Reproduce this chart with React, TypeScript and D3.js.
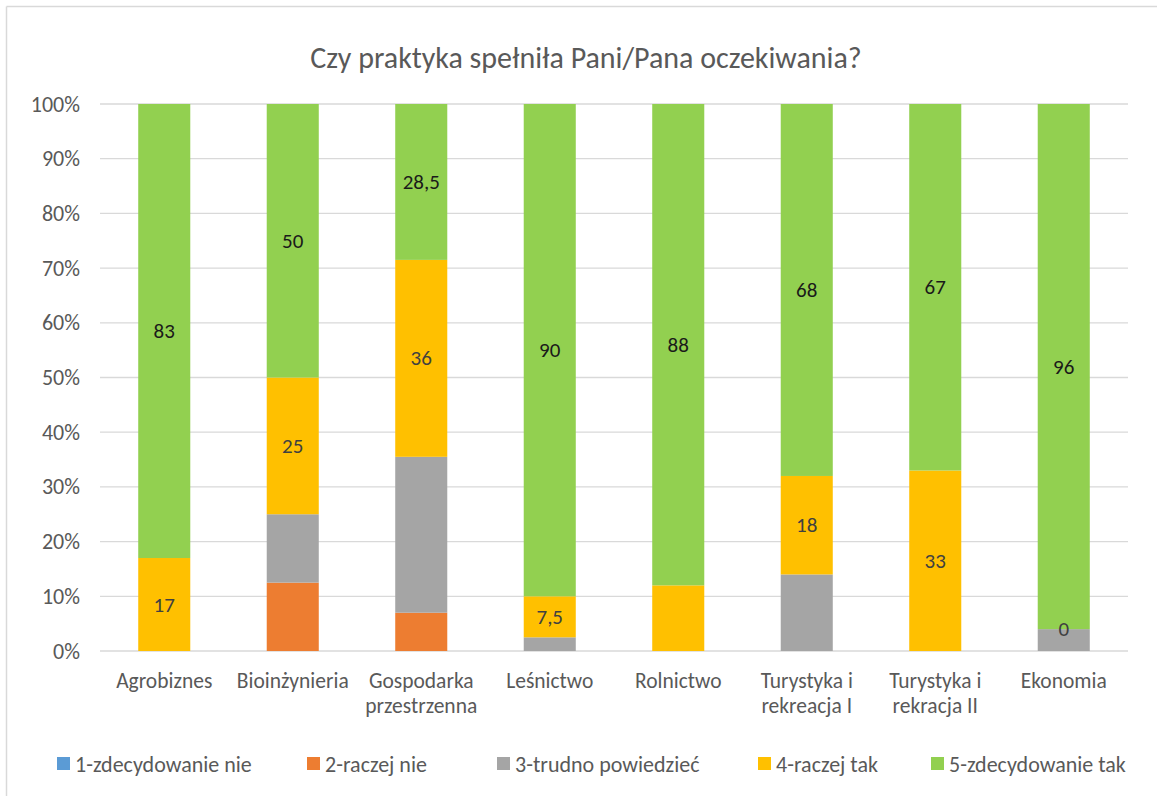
import React from "react";
import * as d3 from "d3";

const categories = [
  ["Agrobiznes"],
  ["Bioinżynieria"],
  ["Gospodarka", "przestrzenna"],
  ["Leśnictwo"],
  ["Rolnictwo"],
  ["Turystyka i", "rekreacja I"],
  ["Turystyka i", "rekracja II"],
  ["Ekonomia"],
];

const seriesNames = [
  "1-zdecydowanie nie",
  "2-raczej nie",
  "3-trudno powiedzieć",
  "4-raczej tak",
  "5-zdecydowanie tak",
];

const s1 = [0, 0, 0, 0, 0, 0, 0, 0];
const s2 = [0, 12.5, 7, 0, 0, 0, 0, 0];
const s3 = [0, 12.5, 28.5, 2.5, 0, 14, 0, 4];
const s4 = [17, 25, 36, 7.5, 12, 18, 33, 0];
const s5 = [83, 50, 28.5, 90, 88, 68, 67, 96];

// which segments carry a data label
const s4ShowLabel = [true, true, true, true, false, true, true, true];
const s5ShowLabel = [true, true, true, true, true, true, true, true];

const yTicks = [0, 10, 20, 30, 40, 50, 60, 70, 80, 90, 100];

const colors = ["#5B9BD5", "#ED7D31", "#A5A5A5", "#FFC000", "#92D050"];

const FONT = "Carlito, Calibri, Lato, 'Open Sans', sans-serif";

export default function App() {
  const W = 1157;
  const H = 796;
  const plotLeft = 100;
  const plotRight = 1128;
  const plotTop = 104;
  const plotBottom = 651;

  const allSeries = [s1, s2, s3, s4, s5];
  const labels = categories.map((c) => c.join(" "));

  const x = d3
    .scaleBand<string>()
    .domain(labels)
    .range([plotLeft, plotRight])
    .paddingInner(0.595)
    .paddingOuter(0.2975);

  const y = d3.scaleLinear().domain([0, 100]).range([plotBottom, plotTop]);

  const rows = labels.map((l, i) => {
    const r: any = { cat: l };
    allSeries.forEach((s, k) => (r["s" + k] = s[i]));
    return r;
  });
  const keys = allSeries.map((_, k) => "s" + k);
  const stacked = d3.stack<any>().keys(keys)(rows);

  const fmt = (v: number) => String(v).replace(".", ",");

  const legendX = [57, 307, 497, 758, 931];

  return (
    <svg
      width={W}
      height={H}
      style={{ position: "absolute", left: 0, top: 0, background: "#fff" }}
      fontFamily={FONT}
    >
      <rect x={0} y={0} width={W} height={H} fill="#fff" />
      {/* chart border */}
      <line x1={6.5} y1={6.5} x2={W} y2={6.5} stroke="#d9d9d9" strokeWidth={1.5} />
      <line x1={6.5} y1={6.5} x2={6.5} y2={H} stroke="#d9d9d9" strokeWidth={1.5} />

      {/* title */}
      <text x={586} y={68} textAnchor="middle" fontSize={30} fill="#595959">
        Czy praktyka spełniła Pani/Pana oczekiwania?
      </text>

      {/* gridlines & y ticks */}
      {yTicks.map((t) => (
        <g key={t}>
          <line
            x1={plotLeft}
            x2={plotRight}
            y1={y(t)}
            y2={y(t)}
            stroke="#d9d9d9"
            strokeWidth={1.3}
          />
          <text
            x={80}
            y={y(t) + 7.5}
            textAnchor="end"
            fontSize={22}
            fill="#595959"
          >
            {t}%
          </text>
        </g>
      ))}

      {/* bars */}
      {stacked.map((layer, k) => (
        <g key={k} fill={colors[k]}>
          {layer.map((d, i) => {
            const h = y(d[0]) - y(d[1]);
            if (h <= 0) return null;
            return (
              <rect
                key={i}
                x={x(labels[i])}
                y={y(d[1])}
                width={x.bandwidth()}
                height={h}
              />
            );
          })}
        </g>
      ))}

      {/* data labels for series 4 */}
      {stacked[3].map((d, i) =>
        s4ShowLabel[i] ? (
          <text
            key={"l4" + i}
            x={(x(labels[i]) as number) + x.bandwidth() / 2}
            y={y((d[0] + d[1]) / 2) + 7}
            textAnchor="middle"
            fontSize={21}
            fill="#404040"
          >
            {fmt(s4[i])}
          </text>
        ) : null
      )}
      {/* data labels for series 5 */}
      {stacked[4].map((d, i) =>
        s5ShowLabel[i] ? (
          <text
            key={"l5" + i}
            x={(x(labels[i]) as number) + x.bandwidth() / 2}
            y={y((d[0] + d[1]) / 2) + 7}
            textAnchor="middle"
            fontSize={21}
            fill="#1a1a1a"
          >
            {fmt(s5[i])}
          </text>
        ) : null
      )}

      {/* category axis labels */}
      {categories.map((lines, i) =>
        lines.map((ln, j) => (
          <text
            key={"c" + i + "_" + j}
            x={(x(labels[i]) as number) + x.bandwidth() / 2}
            y={688 + j * 24.5}
            textAnchor="middle"
            fontSize={21.5}
            fill="#595959"
          >
            {ln}
          </text>
        ))
      )}

      {/* legend */}
      {seriesNames.map((n, k) => (
        <g key={"lg" + k}>
          <rect x={legendX[k]} y={757} width={13} height={13} fill={colors[k]} />
          <text x={legendX[k] + 18} y={771.5} fontSize={22} fill="#595959">
            {n}
          </text>
        </g>
      ))}
    </svg>
  );
}
